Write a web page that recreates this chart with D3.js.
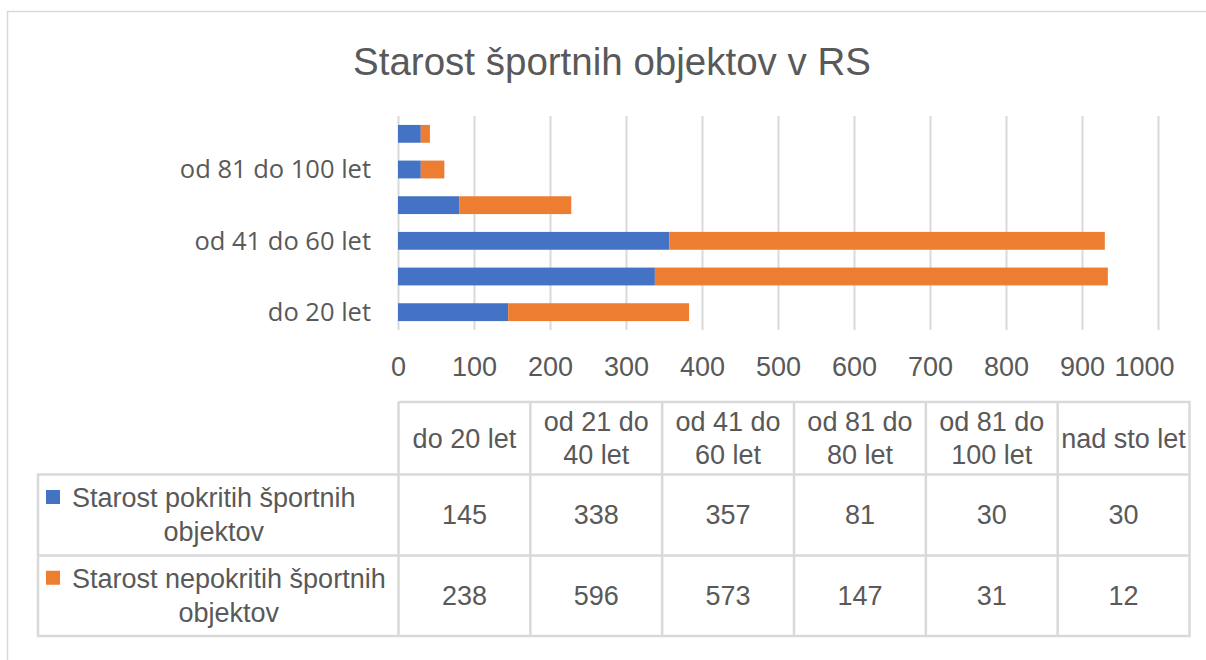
<!DOCTYPE html>
<html lang="sl">
<head>
    <meta charset="UTF-8">
    <title>Starost športnih objektov v RS</title>
    <script src="https://d3js.org/d3.v7.min.js"></script>
    <style>
        body { margin: 0; background: #fff; }
        text { fill: #595959; }
        .narrow { font-family: "Liberation Sans", Arial, sans-serif; }
        .wide { font-family: "Open Sans", "Noto Sans", sans-serif; }
    </style>
</head>
<body>
<script>
    // data, bottom category first
    const categories = ["do 20 let", "od 21 do 40 let", "od 41 do 60 let", "od 81 do 80 let", "od 81 do 100 let", "nad sto let"];
    const headerLines = [["do 20 let"], ["od 21 do", "40 let"], ["od 41 do", "60 let"], ["od 81 do", "80 let"], ["od 81 do", "100 let"], ["nad sto let"]];
    const seriesNames = ["Starost pokritih športnih objektov", "Starost nepokritih športnih objektov"];
    const seriesLines = [["Starost pokritih športnih", "objektov"], ["Starost nepokritih športnih", "objektov"]];
    const covered = [145, 338, 357, 81, 30, 30];
    const uncovered = [238, 596, 573, 147, 31, 12];
    const xTicks = [0, 100, 200, 300, 400, 500, 600, 700, 800, 900, 1000];
    const colors = ["#4472C4", "#ED7D31"];

    const WIDTH = 1206, HEIGHT = 660;
    const GRID = "#d9d9d9";

    const svg = d3.select("body").append("svg").attr("width", WIDTH).attr("height", HEIGHT);

    // chart frame
    svg.append("path").attr("d", "M7.5,660V11.5H1206").attr("fill", "none").attr("stroke", GRID).attr("stroke-width", 1.5);

    svg.append("text").attr("class", "narrow").attr("x", 612).attr("y", 75)
        .attr("text-anchor", "middle").style("font-size", "38.5px").text("Starost športnih objektov v RS");

    const x = d3.scaleLinear().domain([0, 1000]).range([398, 1158]);
    const y = d3.scaleBand().domain(categories).range([330, 116]).paddingInner(0.5).paddingOuter(0.25);

    // gridlines + tick labels
    const xAxis = svg.append("g").attr("transform", "translate(0,330)")
        .call(d3.axisBottom(x).tickValues(xTicks).tickFormat(d3.format("d")).tickSize(-214).tickPadding(27));
    xAxis.select(".domain").remove();
    xAxis.selectAll(".tick line").attr("stroke", GRID).attr("stroke-width", 2);
    xAxis.selectAll(".tick text").attr("class", "narrow").style("font-size", "27px").attr("fill", "#595959")
        .attr("dx", d => d === 1000 ? -14 : 0);

    const rows = categories.map((c, i) => ({cat: c, covered: covered[i], uncovered: uncovered[i]}));
    const stacked = d3.stack().keys(["covered", "uncovered"])(rows);

    svg.append("g").selectAll("g").data(stacked).join("g")
        .attr("fill", (d, i) => colors[i])
        .selectAll("rect").data(d => d).join("rect")
        .attr("x", d => x(d[0]))
        .attr("width", d => x(d[1]) - x(d[0]))
        .attr("y", d => y(d.data.cat))
        .attr("height", y.bandwidth());

    // category labels, every second one
    svg.append("g").selectAll("text").data(categories.filter((c, i) => i % 2 === 0)).join("text")
        .attr("class", "wide").attr("x", 371).attr("y", d => y(d) + y.bandwidth() / 2)
        .attr("dy", "0.35em").attr("text-anchor", "end").style("font-size", "25.5px").text(d => d);

    // data table
    const colX = d3.scaleBand().domain(categories).range([398.5, 1189.5]);
    const rowTop = [402, 474.5, 555.5, 636];
    const lines = svg.append("g").attr("stroke", GRID).attr("stroke-width", 2.5).attr("fill", "none");
    lines.append("path").attr("d", `M398.5,${rowTop[0]}H1189.5V636H38V${rowTop[1]}H1189.5M38,${rowTop[2]}H1189.5`);
    categories.forEach(c => {
        lines.append("line").attr("x1", colX(c)).attr("x2", colX(c)).attr("y1", rowTop[0]).attr("y2", 636);
    });

    const table = svg.append("g").attr("class", "narrow").style("font-size", "27px");
    headerLines.forEach((ls, i) => {
        const cx = colX(categories[i]) + colX.bandwidth() / 2;
        const cy = (rowTop[0] + rowTop[1]) / 2;
        ls.forEach((l, j) => {
            table.append("text").attr("x", cx).attr("y", cy + (j - (ls.length - 1) / 2) * 33)
                .attr("dy", "0.35em").attr("text-anchor", "middle").text(l);
        });
    });

    [covered, uncovered].forEach((vals, s) => {
        const cy = (rowTop[s + 1] + rowTop[s + 2]) / 2;
        vals.forEach((v, i) => {
            table.append("text").attr("x", colX(categories[i]) + colX.bandwidth() / 2).attr("y", cy)
                .attr("dy", "0.35em").attr("text-anchor", "middle").text(v);
        });
        // legend key and series name
        svg.append("rect").attr("x", 46).attr("y", cy - 25).attr("width", 14).attr("height", 14).attr("fill", colors[s]);
        const first = table.append("text").attr("x", 72).attr("y", cy - 17).attr("dy", "0.35em").text(seriesLines[s][0]);
        const w = first.node().getComputedTextLength();
        table.append("text").attr("x", 72 + w / 2).attr("y", cy + 17).attr("dy", "0.35em")
            .attr("text-anchor", "middle").text(seriesLines[s][1]);
    });
</script>
</body>
</html>
